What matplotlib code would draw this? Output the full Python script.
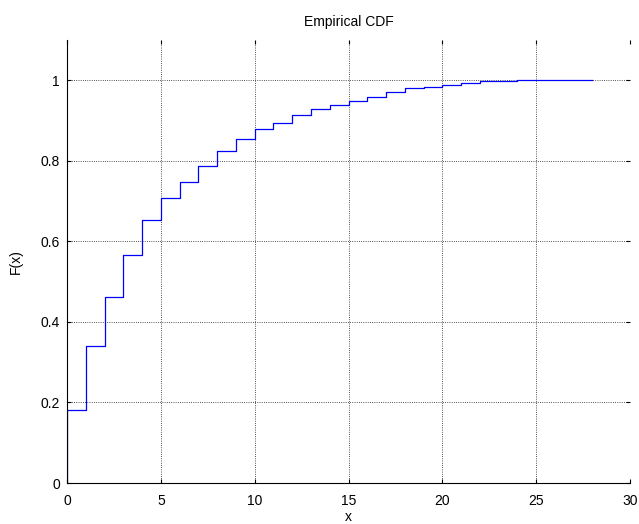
import numpy as np
import matplotlib.pyplot as plt

plt.rcParams['font.family'] = ['Liberation Sans', 'DejaVu Sans']

# empirical CDF values (step at each x)
x_vals = [0, 0, 1, 2, 3, 4, 5, 6, 7, 8, 9, 10, 11, 12, 13, 14, 15, 16, 17,
          18, 19, 20, 21, 22, 24, 28]
F_vals = [0.0, 0.182, 0.340, 0.462, 0.566, 0.652, 0.708, 0.747, 0.786, 0.825,
          0.854, 0.880, 0.893, 0.9125, 0.929, 0.938, 0.948, 0.958, 0.971,
          0.980, 0.984, 0.988, 0.993, 0.998, 1.0, 1.0]
x_ticks = [0, 5, 10, 15, 20, 25, 30]
y_ticks = [0, 0.2, 0.4, 0.6, 0.8, 1.0]
y_ticklabels = ['0', '0.2', '0.4', '0.6', '0.8', '1']

fig = plt.figure(figsize=(6.39, 5.24), dpi=100)
ax = fig.add_axes([0.1049, 0.0782, 0.881, 0.8455])

ax.step(x_vals, F_vals, where='post', color='blue', linewidth=0.9)

ax.set_xlim(0, 30)
ax.set_ylim(0, 1.1)
ax.set_xticks(x_ticks)
ax.set_yticks(y_ticks)
ax.set_yticklabels(y_ticklabels)
ax.grid(True, color='0.1', linestyle=':', linewidth=0.6)

for side in ['top', 'right']:
    ax.spines[side].set_visible(False)
for side in ['left', 'bottom']:
    ax.spines[side].set_linewidth(0.8)

ax.tick_params(direction='in', length=3, width=0.8, top=True, right=True,
               labelsize=10)
ax.tick_params(axis='x', pad=8)
ax.tick_params(axis='y', pad=5)

ax.set_title('Empirical CDF', fontsize=10, pad=10)
ax.set_xlabel('x', fontsize=10, labelpad=1)
ax.set_ylabel('F(x)', fontsize=10, labelpad=13)

fig.savefig('out.png', dpi=100)
